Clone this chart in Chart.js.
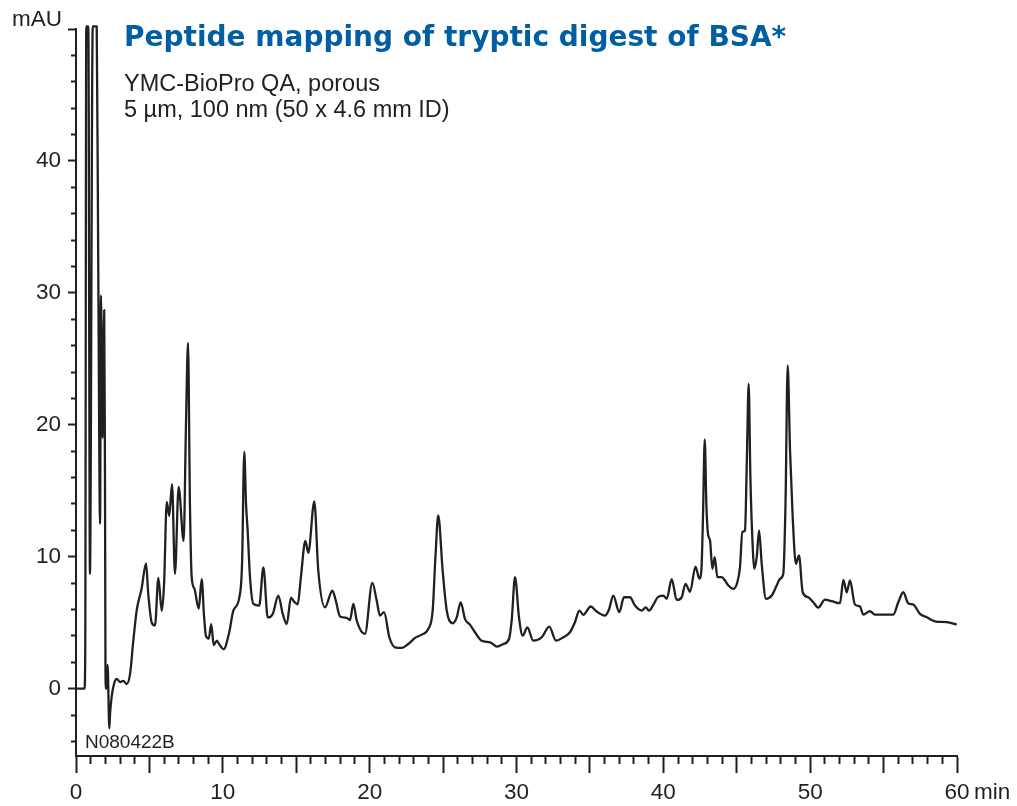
<!DOCTYPE html>
<html>
<head>
<meta charset="utf-8">
<script src="https://cdn.jsdelivr.net/npm/chart.js@4/dist/chart.umd.min.js"></script>
<style>
  html, body { margin: 0; padding: 0; background: #fff; }
  #wrap { position: relative; width: 1017px; height: 806px; overflow: hidden; }
  #chart { position: absolute; left: 0; top: 0; }
  .txt { position: absolute; white-space: nowrap; line-height: 1; color: #231f20;
         font-family: "Liberation Sans", Arial, sans-serif; }
  #title { left: 124px; top: 23px; font-family: "DejaVu Sans", sans-serif; font-weight: bold;
           font-size: 28px; color: #005fa3; }
  #sub1 { left: 124px; top: 72px; font-size: 23.5px; }
  #sub2 { left: 124px; top: 98px; font-size: 23.5px; }
  #unitY { right: 955px; top: 8px; font-size: 22.5px; }
  #unitX { left: 974px; top: 781px; font-size: 22.5px; }
  #code { left: 85px; top: 732px; font-size: 19px; }
</style>
</head>
<body>
<div id="wrap">
  <canvas id="chart" width="1017" height="806"></canvas>
  <div class="txt" id="title">Peptide mapping of tryptic digest of BSA*</div>
  <div class="txt" id="sub1">YMC-BioPro QA, porous</div>
  <div class="txt" id="sub2">5 µm, 100 nm (50 x 4.6 mm ID)</div>
  <div class="txt" id="unitY">mAU</div>
  <div class="txt" id="unitX">min</div>
  <div class="txt" id="code">N080422B</div>
</div>
<script>
// Retention time (min) of each sampled point of the UV trace
const retentionTime = [
  0, 0.58, 0.63, 0.70, 0.84, 0.95, 1.14, 1.41, 1.51, 1.64, 1.70, 1.81, 1.92, 1.97, 2.02, 2.07,
  2.15, 2.27, 2.32, 2.43, 2.61, 2.77, 3.00, 3.22, 3.45, 3.68, 3.90, 4.13, 4.47, 4.77, 4.92,
  5.16, 5.38, 5.61, 5.84, 6.00, 6.18, 6.35, 6.54, 6.74, 6.99, 7.33, 7.49, 7.63, 7.76, 7.88,
  8.06, 8.36, 8.56, 8.72, 8.85, 9.04, 9.21, 9.38, 9.60, 9.74, 10.06, 10.44, 10.71, 11.12,
  11.31, 11.46, 11.58, 11.69, 11.85, 12.08, 12.48, 12.76, 13.06, 13.40, 13.78, 14.08, 14.35,
  14.64, 14.85, 15.10, 15.32, 15.62, 15.82, 16.23, 16.50, 16.96, 17.46, 17.69, 17.98, 18.44,
  18.66, 18.89, 19.12, 19.68, 20.18, 20.48, 20.70, 20.98, 21.34, 21.73, 22.18, 22.63, 23.09,
  23.54, 23.99, 24.29, 24.48, 24.67, 24.97, 25.25, 25.66, 25.93, 26.20, 26.49, 26.83, 27.17,
  27.63, 28.20, 28.69, 29.10, 29.49, 29.67, 29.90, 30.17, 30.42, 30.74, 31.14, 31.72, 32.23,
  32.69, 33.19, 33.64, 33.98, 34.28, 34.55, 35.05, 35.46, 36.03, 36.30, 36.59, 37.00, 37.32,
  37.73, 38.07, 38.53, 38.80, 39.02, 39.32, 39.62, 40.00, 40.23, 40.57, 40.91, 41.25, 41.51,
  41.82, 42.19, 42.45, 42.59, 42.70, 42.82, 42.93, 43.04, 43.18, 43.34, 43.50, 43.68, 43.98,
  44.20, 44.43, 44.77, 45.04, 45.22, 45.38, 45.56, 45.70, 45.81, 45.93, 46.04, 46.20, 46.36,
  46.52, 46.70, 46.99, 47.38, 47.72, 47.95, 48.17, 48.32, 48.47, 48.63, 48.81, 49.03, 49.24,
  49.49, 49.87, 50.21, 50.55, 51.01, 51.47, 52.03, 52.26, 52.49, 52.71, 53.05, 53.39, 53.62,
  54.07, 54.41, 55.66, 56.00, 56.34, 56.68, 57.02, 57.48, 57.94, 58.50, 59.30, 59.98
];

// Detector response (mAU) at each retention time; the void-volume peaks saturate at the top
const absorbance = [
  0, 0, 3, 50.2, 50.2, 8.7, 50.2, 50.2, 33, 12.5, 29.8, 19, 28.7, 17, 0, 0,
  1.8, -3.0, -1.9, -0.6, 0.45, 0.75, 0.5, 0.6, 0.35, 1.1, 3.6, 5.9, 7.6, 9.5, 7.2,
  5.0, 4.8, 8.4, 5.9, 8.0, 14.15, 13.1, 15.5, 8.7, 15.3, 11.2, 20, 26.2, 14, 8.45,
  7.6, 6.07, 8.3, 5.5, 4.0, 3.8, 4.9, 3.3, 3.65, 3.4, 3.0, 4.3, 5.9, 6.9,
  9.5, 17.95, 14, 12.0, 8.45, 6.43, 6.3, 9.2, 5.4, 5.67, 7.06, 5.67, 4.9,
  6.9, 6.6, 6.4, 8.5, 11.2, 10.3, 14.2, 8.96, 6.17, 7.44, 6.7, 5.47, 5.37,
  5.2, 6.43, 5.16, 4.15, 8.02, 6.68, 5.54, 5.8, 3.9, 3.14, 3.09, 3.39, 3.85,
  4.1, 4.53, 5.92, 10, 13.14, 8.96, 5.92, 4.96, 5.41, 6.55, 5.29, 4.86, 4.28,
  3.64, 3.52, 3.19, 3.39, 3.77, 5.16, 8.45, 5.41, 4.02, 4.65, 3.64, 3.9, 4.7,
  3.64, 3.9, 4.28, 5.04, 5.92, 5.6, 6.23, 5.85, 5.54, 6.0, 7.06, 5.8, 6.93,
  6.93, 6.3, 5.92, 6.17, 5.92, 6.36, 6.93, 7.06, 6.81, 8.3, 6.73, 6.93, 7.95,
  7.35, 9.26, 8.35, 8.96, 13, 18.9, 14, 11.75, 11.24, 9.09, 9.97, 8.45, 8.45,
  8.2, 7.82, 7.57, 8.07, 9.21, 11.87, 12.0, 18, 23.1, 16, 12.0, 9.09, 9.97,
  12.0, 9.47, 6.81, 7.06, 7.82, 8.33, 8.71, 14, 24.5, 18, 13.0, 9.47, 10.1,
  7.31, 6.93, 6.55, 6.15, 6.75, 6.63, 6.48, 8.25, 7.31, 8.2, 6.38, 6.23, 5.62,
  5.87, 5.62, 5.62, 6.55, 7.31, 6.48, 6.38, 5.67, 5.41, 5.11, 5.04, 4.86
];

// Labelled tick values on each axis
const xTickLabels = [0, 10, 20, 30, 40, 50, 60];
const yTickLabels = [0, 10, 20, 30, 40];

const ink = '#231f20';
const tickFont = { family: '"Liberation Sans", Arial, sans-serif', size: 22.5 };

const trace = retentionTime.map((t, i) => ({ x: t, y: absorbance[i] }));

new Chart(document.getElementById('chart'), {
  type: 'line',
  data: {
    datasets: [{
      data: trace,
      borderColor: ink,
      borderWidth: 2.3,
      pointRadius: 0,
      fill: false,
      cubicInterpolationMode: 'monotone',
      borderJoinStyle: 'round',
      clip: { left: 0, right: 0, top: 4, bottom: 0 }
    }]
  },
  options: {
    responsive: false,
    animation: false,
    devicePixelRatio: 1,
    layout: { padding: { left: 0, right: 60, top: 29, bottom: 0 } },
    plugins: { legend: { display: false }, tooltip: { enabled: false } },
    scales: {
      x: {
        type: 'linear',
        min: 0,
        max: 60,
        afterBuildTicks: s => { s.ticks = Array.from({ length: 61 }, (_, i) => ({ value: i })); },
        afterFit: s => { s.height = 50; },
        border: { color: ink, width: 2 },
        grid: {
          drawOnChartArea: false,
          tickLength: 17,
          tickWidth: 2,
          tickColor: ink,
          // every minute a short tick, every five minutes a long one
          tickBorderDash: c => (c.tick && c.tick.value % 5 === 0) ? [] : [7, 60]
        },
        ticks: {
          autoSkip: false,
          maxRotation: 0,
          padding: 6,
          color: ink,
          font: tickFont,
          callback: v => xTickLabels.includes(v) ? String(v) : ''
        }
      },
      y: {
        type: 'linear',
        min: -5.1,
        max: 50,
        afterBuildTicks: s => {
          const t = [];
          for (let v = -4; v <= 50; v += 2) t.push({ value: v });
          s.ticks = t;
        },
        afterFit: s => { s.width = 76; },
        border: { color: ink, width: 2 },
        grid: {
          drawOnChartArea: false,
          tickLength: 8,
          tickWidth: 2,
          tickColor: ink,
          // long tick every 10 mAU, short ones every 2 mAU (drawn next to the axis)
          tickBorderDash: c => (c.tick && c.tick.value % 10 === 0) ? [] : [0, 3, 4, 60]
        },
        ticks: {
          autoSkip: false,
          padding: 7,
          color: ink,
          font: tickFont,
          callback: v => yTickLabels.includes(v) ? String(v) : ''
        }
      }
    }
  }
});
</script>
</body>
</html>
